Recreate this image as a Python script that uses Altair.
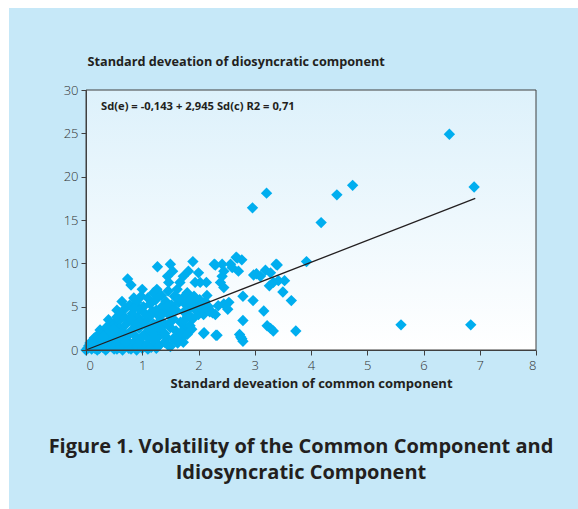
import altair as alt
import pandas as pd

# Scatter points: standard deviation of common component (x) vs idiosyncratic component (y)
common_sd = [
    0.0, 0.03, 0.05, 0.07, 0.08, 0.1, 0.1, 0.12, 0.14, 0.15, 0.16, 0.18, 0.2, 0.2, 0.22, 0.24, 0.25, 0.26,
    0.28, 0.3, 0.3, 0.32, 0.34, 0.35, 0.36, 0.38, 0.4, 0.4, 0.42, 0.44, 0.45, 0.46, 0.48, 0.5, 0.5, 0.5,
    0.2, 0.35, 0.55, 0.65, 0.8, 0.9, 1.1, 1.25,
    0.52, 0.54, 0.55, 0.56, 0.58, 0.6, 0.6, 0.62, 0.64, 0.64, 0.66, 0.68, 0.7, 0.7, 0.72, 0.74, 0.75, 0.76,
    0.78, 0.8, 0.8, 0.82, 0.84, 0.85, 0.86, 0.88, 0.9, 0.9, 0.92, 0.94, 0.95, 0.96, 0.98, 1.0, 1.0, 1.0,
    1.02, 1.04, 1.05, 1.06, 1.08, 1.1, 1.1, 1.12, 1.14, 1.15, 1.16, 1.18, 1.2, 1.2, 1.22, 1.24, 1.25, 1.26,
    1.27, 1.28, 1.3, 1.3, 1.32, 1.34, 1.35, 1.36, 1.38, 1.4, 1.4, 1.42, 1.44, 1.45, 1.46, 1.47, 1.48, 1.5,
    1.5, 1.5,
    1.52, 1.54, 1.55, 1.55, 1.57, 1.6, 1.6, 1.62, 1.63, 1.65, 1.67, 1.67, 1.68, 1.7, 1.72, 1.73, 1.74, 1.76,
    1.78, 1.8, 1.8, 1.82, 1.84, 1.85, 1.86, 1.88, 1.9, 1.9, 1.92, 1.94, 1.95, 1.97, 2.0, 2.0, 2.02, 2.03,
    2.06, 2.09, 2.1, 2.12, 2.14, 2.15, 2.18, 2.2,
    2.25, 2.28, 2.3, 2.31, 2.35, 2.39, 2.42, 2.42, 2.45, 2.45, 2.45, 2.52, 2.54, 2.57, 2.6, 2.67, 2.71, 2.73,
    2.77, 2.77, 2.79, 2.79, 2.79, 2.96, 2.97, 3.03, 3.1, 3.16, 3.19, 3.21, 3.22, 3.26, 3.28, 3.28, 3.33, 3.33,
    3.38, 3.42, 3.5, 3.53, 3.65, 3.73, 3.92, 2.3, 2.69, 2.98, 3.4, 2.33, 2.09, 2.75, 1.45, 1.6, 1.73,
    4.18, 4.46, 4.74, 5.6, 6.46, 6.84, 6.9,
    0.15, 0.25, 0.35, 0.45, 0.55, 0.6, 0.65, 0.7, 0.75, 0.85, 0.95, 1.05, 1.15, 1.25, 1.35, 1.45, 1.55, 1.65,
    1.75, 1.85, 1.95, 0.3, 0.4, 0.5, 0.6, 0.7, 0.8, 0.9, 1.0, 1.1, 1.2, 1.3, 1.4, 1.5, 1.6, 1.7, 1.8, 1.9,
    2.05, 2.15,
]
idio_sd = [
    0.0, 0.2, 0.5, 0.8, 0.3, 0.1, 0.6, 1.0, 0.4, 1.4, 0.2, 0.8, 1.2, 0.5, 1.8, 0.2, 2.3, 0.9,
    1.5, 0.3, 2.0, 1.1, 0.6, 1.7, 2.6, 0.2, 3.5, 1.3, 0.8, 2.2, 0.4, 2.7, 1.6, 0.1, 3.0, 1.0,
    0.0, 0.0, 0.1, 0.0, 0.1, 0.0, 0.1, 0.2,
    2.0, 0.6, 4.6, 1.4, 3.4, 0.3, 2.5, 1.0, 5.6, 3.9, 1.8, 0.5, 4.8, 2.9, 1.2, 8.2, 3.5, 0.2,
    5.2, 7.5, 2.2, 4.2, 0.8, 6.0, 3.0, 1.6, 5.5, 0.4, 3.8, 2.5, 4.7, 1.0, 6.2, 7.0, 3.3, 0.2,
    5.0, 1.8, 4.2, 2.8, 0.6, 6.0, 3.6, 1.3, 5.3, 2.2, 0.3, 4.5, 6.6, 3.0, 1.0, 5.8, 2.5, 7.0,
    9.6, 4.0, 1.6, 0.5, 3.4, 6.3, 5.0, 2.0, 4.4, 0.9, 3.0, 5.6, 1.4, 8.5, 6.8, 7.8, 4.0, 9.9,
    2.6, 0.4,
    5.2, 9.1, 3.6, 1.3, 6.2, 4.6, 2.2, 7.0, 0.8, 5.5, 7.8, 1.6, 3.2, 1.3, 6.0, 8.5, 4.4, 2.6,
    5.2, 6.6, 3.8, 9.1, 4.8, 2.8, 5.8, 2.4, 10.2, 3.6, 6.2, 7.8, 4.6, 5.4, 8.9, 4.1, 5.8, 7.8,
    5.2, 4.1, 2.0, 5.6, 7.8, 4.7, 5.0, 4.4,
    4.3, 9.9, 4.1, 1.7, 5.1, 7.8, 9.9, 8.5, 9.1, 7.2, 5.3, 4.7, 5.5, 9.9, 9.5, 10.7, 9.1, 1.8,
    10.4, 1.3, 6.2, 3.4, 1.0, 16.4, 5.7, 8.8, 8.5, 4.5, 9.2, 18.1, 2.8, 7.4, 8.9, 2.5, 7.8, 2.2,
    9.9, 8.0, 6.7, 8.0, 5.7, 2.2, 10.2, 9.8, 10.6, 8.65, 9.8, 1.7, 1.9, 1.5, 0.6, 1.2, 0.9,
    14.7, 17.9, 19.0, 2.9, 24.9, 2.9, 18.8,
    0.9, 1.3, 1.0, 1.9, 3.8, 4.3, 2.2, 3.7, 1.7, 4.8, 3.2, 3.0, 4.0, 4.6, 4.1, 5.1, 4.6, 5.9,
    3.4, 3.9, 5.9, 1.6, 2.4, 2.4, 1.6, 0.9, 3.6, 2.9, 1.6, 2.6, 1.9, 2.6, 1.9, 3.2, 1.1, 2.1, 1.8, 5.1,
    4.7, 6.3,
]

# Fitted line as drawn in the figure
line_x = [0.0, 6.92]
line_y = [0.0, 17.5]

x_ticks = [0, 1, 2, 3, 4, 5, 6, 7, 8]
y_ticks = [0, 5, 10, 15, 20, 25, 30]

y_title = "Standard deveation of diosyncratic component"
x_title = "Standard deveation of common component"
equation = "Sd(e) = -0,143 + 2,945 Sd(c) R2 = 0,71"
caption_1 = "Figure 1. Volatility of the Common Component and"
caption_2 = "Idiosyncratic Component"

pts = pd.DataFrame({"x": common_sd, "y": idio_sd})
fit = pd.DataFrame({"x": line_x, "y": line_y})
one = pd.DataFrame({"d": [0]})

FONT = "Open Sans"
DARK = "#231f20"
BLUE_BG = "#c6e8f8"

xscale = alt.Scale(domain=[0, 8], nice=False, zero=False)
yscale = alt.Scale(domain=[0, 30], nice=False, zero=False)

xaxis = alt.Axis(values=x_ticks, format="d", title=x_title, grid=False, zindex=1,
                 titleFont=FONT, titleFontSize=13, titleFontWeight="bold", titleColor=DARK,
                 titlePadding=5, labelPadding=4)
yaxis = alt.Axis(values=y_ticks, format="d", title=y_title, grid=False, zindex=1,
                 titleFont=FONT, titleFontSize=12.7, titleFontWeight="bold", titleColor=DARK,
                 titleAngle=0, titleAlign="left", titleBaseline="middle", titleX=1, titleY=-29,
                 labelPadding=3)

grad = alt.LinearGradient(
    gradient="linear",
    stops=[alt.GradientStop(color="#ddf1fb", offset=0), alt.GradientStop(color="#ffffff", offset=1)],
    x1=0, x2=0, y1=0, y2=1,
)

panel = alt.Chart(one).mark_rect(color=grad).encode(
    x=alt.value(0), x2=alt.value(450), y=alt.value(0), y2=alt.value(260))

points = alt.Chart(pts).mark_point(shape="diamond", filled=True, size=130, color="#00aeef",
                                   opacity=1).encode(
    x=alt.X("x:Q", scale=xscale, axis=xaxis),
    y=alt.Y("y:Q", scale=yscale, axis=yaxis),
)

line = alt.Chart(fit).mark_line(color=DARK, strokeWidth=1.3).encode(
    x=alt.X("x:Q", scale=xscale),
    y=alt.Y("y:Q", scale=yscale),
)

frame = alt.Chart(one).mark_rect(fillOpacity=0, stroke="#404040", strokeWidth=1).encode(
    x=alt.value(0), x2=alt.value(450), y=alt.value(0), y2=alt.value(260))

eq = alt.Chart(one).mark_text(text=equation, font=FONT, fontSize=11.2, fontWeight="bold",
                              color=DARK, align="left", baseline="middle").encode(
    x=alt.value(15), y=alt.value(17))

cap1 = alt.Chart(one).mark_text(text=caption_1, font=FONT, fontSize=20, fontWeight="bold",
                                color=DARK, align="center", baseline="middle").encode(
    x=alt.value(215), y=alt.value(357))
cap2 = alt.Chart(one).mark_text(text=caption_2, font=FONT, fontSize=20, fontWeight="bold",
                                color=DARK, align="center", baseline="middle").encode(
    x=alt.value(215), y=alt.value(383))

strip_left = alt.Chart(one).mark_rect(color="white").encode(
    x=alt.value(-86), x2=alt.value(-77), y=alt.value(-90), y2=alt.value(419))
strip_top = alt.Chart(one).mark_rect(color="white").encode(
    x=alt.value(-86), x2=alt.value(492), y=alt.value(-90), y2=alt.value(-82))

chart = alt.layer(panel, points, line, frame, eq, cap1, cap2, strip_left, strip_top).properties(
    width=450, height=260,
    autosize=alt.AutoSizeParams(type="none"),
    padding={"left": 86, "top": 90, "right": 42, "bottom": 159},
    background=BLUE_BG,
).configure_view(
    stroke=None,
).configure_axis(
    labelFont=FONT, labelFontSize=13, labelFontWeight=300, labelColor="#333333",
    domainColor="#404040", tickColor="#404040", tickSize=5,
)

chart.save("out.html", embed_options={"renderer": "svg", "actions": False})
